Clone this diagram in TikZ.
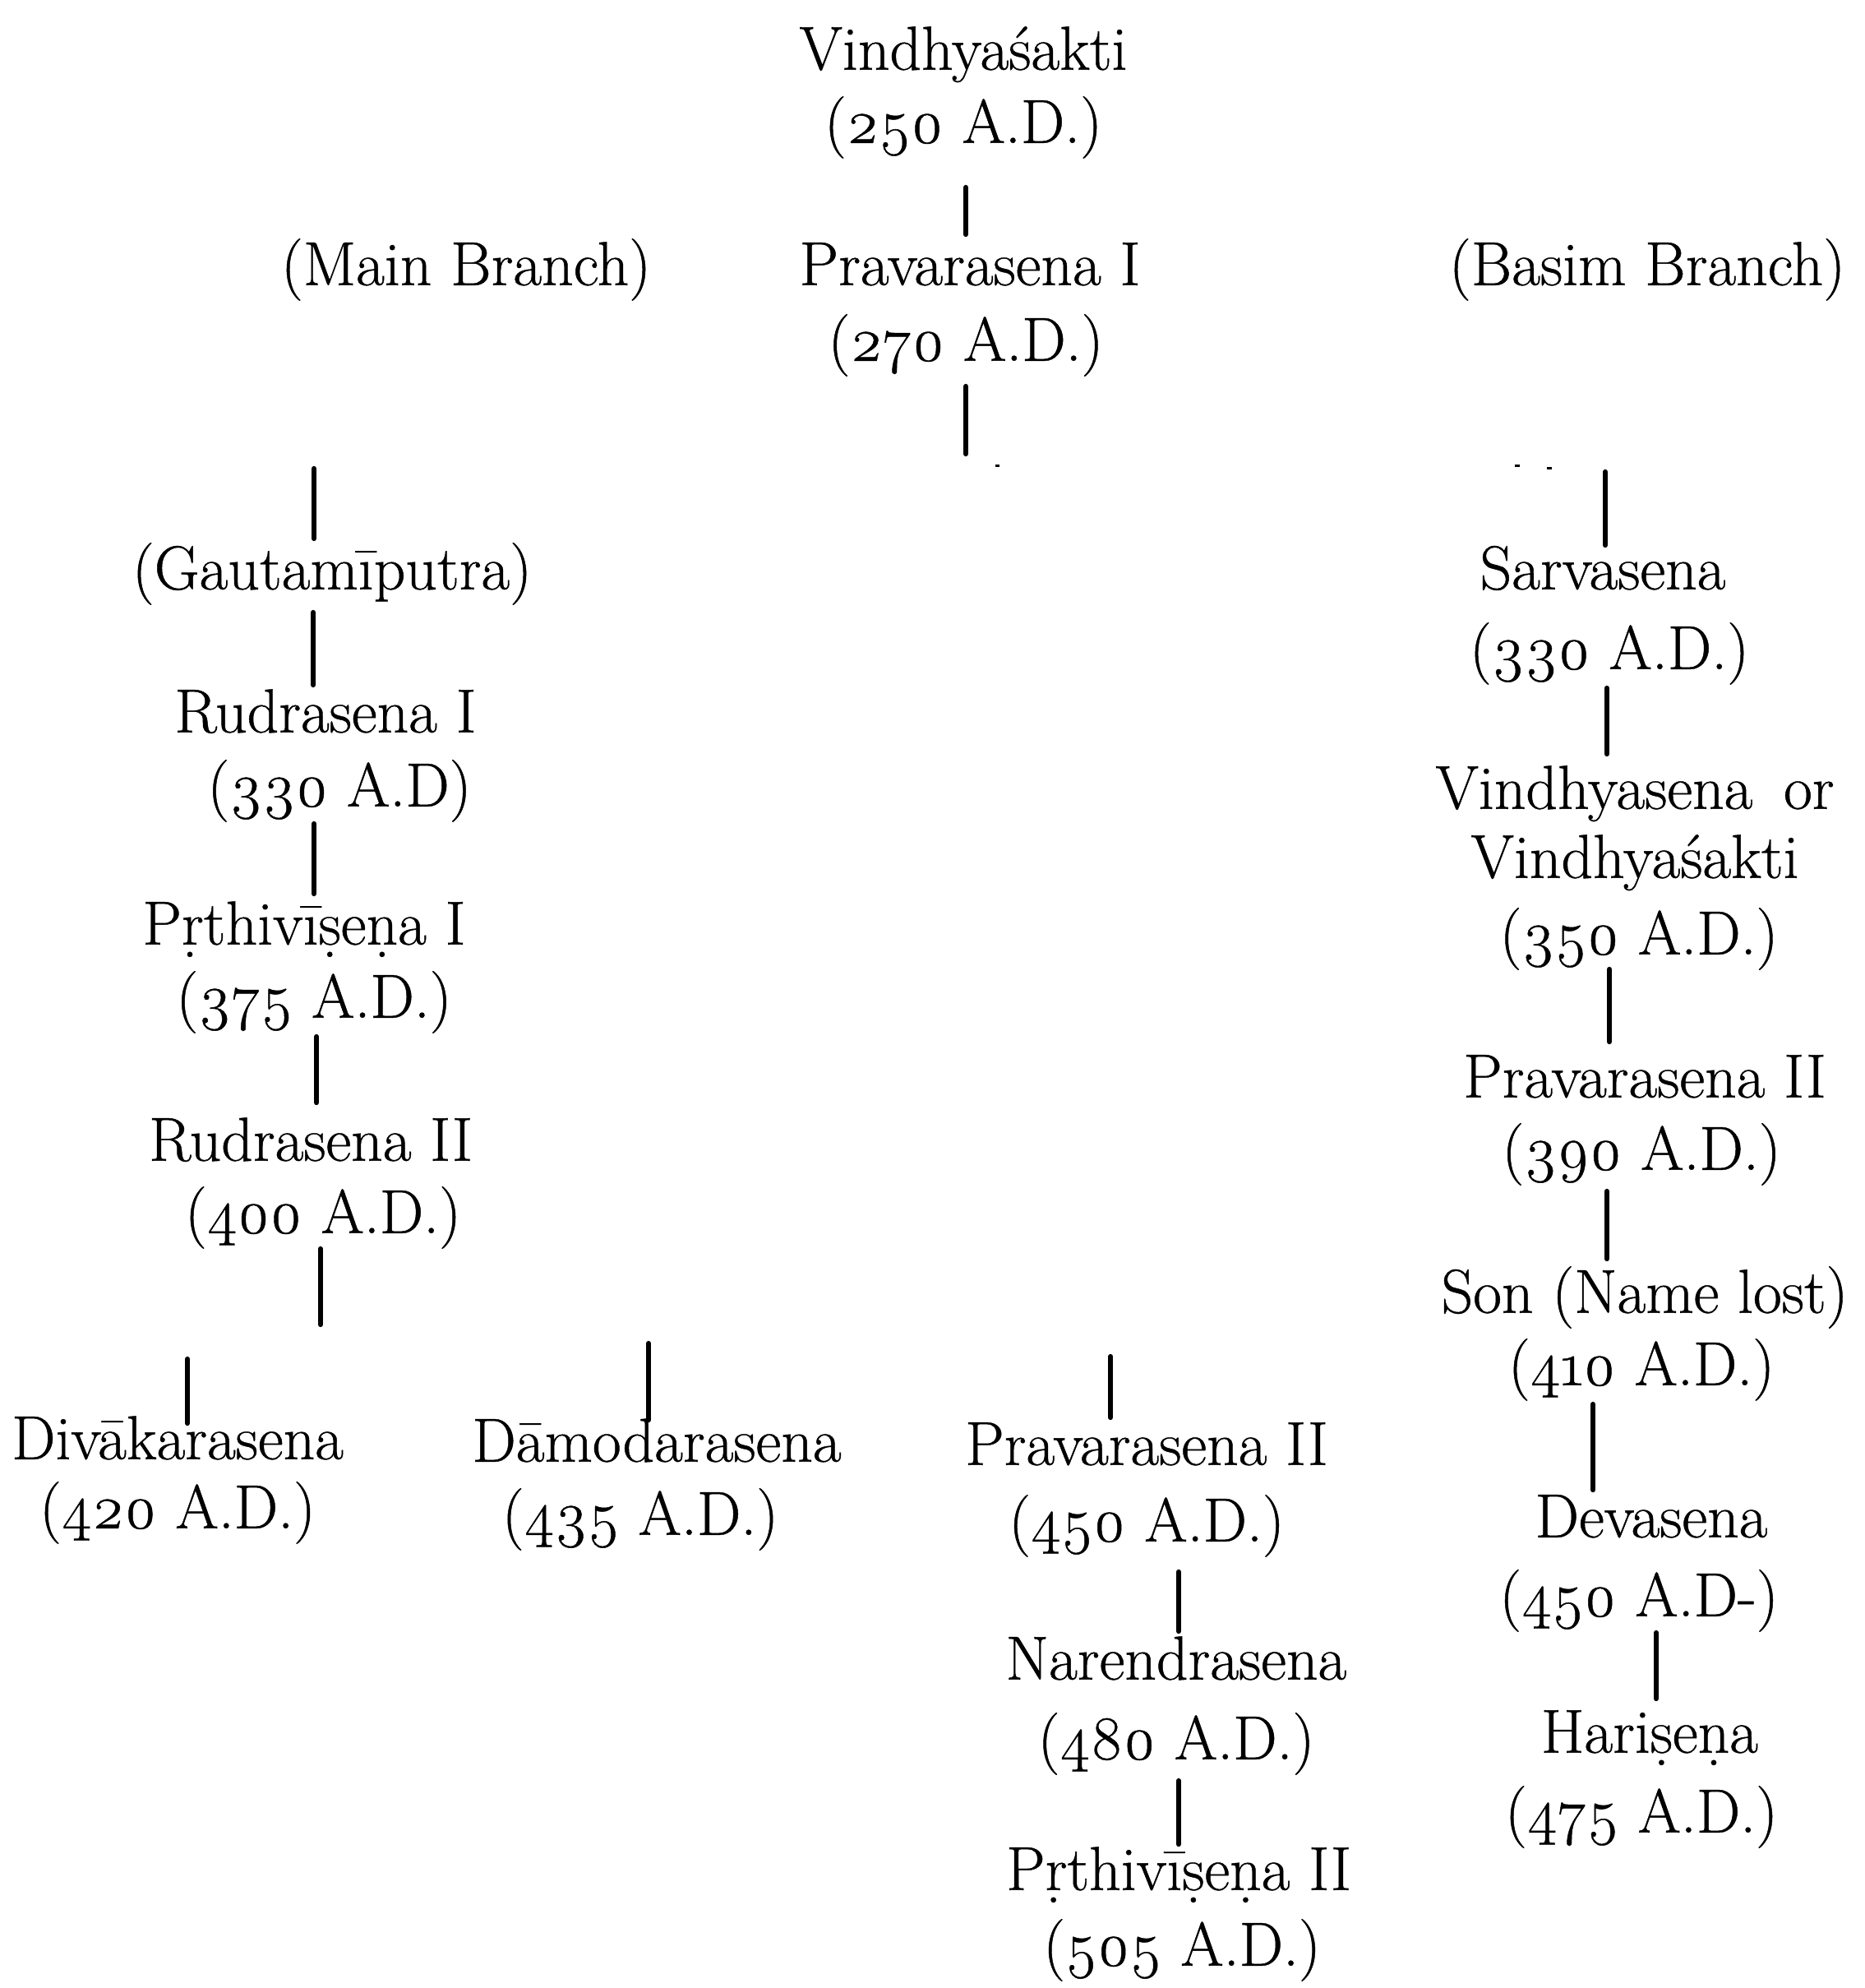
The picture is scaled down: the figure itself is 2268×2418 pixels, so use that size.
\documentclass[tikz,border=0pt]{standalone}
\usepackage{fontspec}
\setmainfont{Latin Modern Roman}[Numbers=OldStyle, FakeBold=0.6]
\begin{document}
\begin{tikzpicture}[x=0.01cm,y=-0.01cm,
  lbl/.style={inner sep=0pt, yshift=-0.11cm, font=\fontsize{21.5}{26}\selectfont, text height=0.72em, text depth=0.22em},
  link/.style={line width=1.8pt, line cap=round}]
\useasboundingbox (0,0) rectangle (2268,2418);
\fill[white] (0,0) rectangle (2268,2418);
% top
\node[lbl] (vs) at (1172,65) {Vindhyaśakti};
\node[lbl] (vsd) at (1172,154) {(250 A.D.)};
\node[lbl] (mb) at (567,327) {(Main Branch)};
\node[lbl] (p1) at (1180,327) {Pravarasena I};
\node[lbl] (bb) at (2004,327) {(Basim Branch)};
\node[lbl] (p1d) at (1175,419) {(270 A.D.)};
% main branch
\node[lbl] (gp) at (404,697) {(Gautam\={\i}putra)};
\node[lbl] (r1) at (396,871) {Rudrasena I};
\node[lbl] (r1d) at (413,961) {(330 A.D)};
\node[lbl] (pt1) at (370,1129) {P\d{r}thiv\={\i}\d{s}e\d{n}a I};
\node[lbl] (pt1d) at (382,1218) {(375 A.D.)};
\node[lbl] (r2) at (378,1392) {Rudrasena II};
\node[lbl] (r2d) at (393,1480) {(400 A.D.)};
\node[lbl] (dv) at (216,1755) {Div\=akarasena};
\node[lbl] (dvd) at (216,1839) {(420 A.D.)};
\node[lbl] (dm) at (799,1758) {D\=amodarasena};
\node[lbl] (dmd) at (779,1847) {(435 A.D.)};
\node[lbl] (p2) at (1395,1762) {Pravarasena II};
\node[lbl] (p2d) at (1395,1855) {(450 A.D.)};
\node[lbl] (nr) at (1431,2023) {Narendrasena};
\node[lbl] (nrd) at (1431,2120) {(480 A.D.)};
\node[lbl] (pt2) at (1434,2279) {P\d{r}thiv\={\i}\d{s}e\d{n}a II};
\node[lbl] (pt2d) at (1438,2371) {(505 A.D.)};
% Basim branch
\node[lbl] (sv) at (1950,697) {Sarvasena};
\node[lbl] (svd) at (1958,794) {(330 A.D.)};
\node[lbl] (vn) at (1989,964) {Vindhyasena\hspace{0.5em}or};
\node[lbl] (vn2) at (1989,1048) {Vindhyaśakti};
\node[lbl] (vnd) at (1994,1141) {(350 A.D.)};
\node[lbl] (bp2) at (2001,1315) {Pravarasena II};
\node[lbl] (bp2d) at (1997,1403) {(390 A.D.)};
\node[lbl] (sn) at (2001,1577) {Son (Name lost)};
\node[lbl] (snd) at (1997,1665) {(410 A.D.)};
\node[lbl] (dvs) at (2009,1850) {Devasena};
\node[lbl] (dvsd) at (1994,1946) {(450 A.D-)};
\node[lbl] (hs) at (2007,2112) {Hari\d{s}e\d{n}a};
\node[lbl] (hsd) at (1997,2209) {(475 A.D.)};
% connector ends
\coordinate (a1) at (1175,228); \coordinate (a2) at (1175,285);
\coordinate (b1) at (1175,470); \coordinate (b2) at (1175,552);
\coordinate (c1) at (382,570);  \coordinate (c2) at (382,655);
\coordinate (d1) at (381,745);  \coordinate (d2) at (381,833);
\coordinate (e1) at (382,1002); \coordinate (e2) at (382,1087);
\coordinate (f1) at (385,1261); \coordinate (f2) at (385,1341);
\coordinate (g1) at (390,1519); \coordinate (g2) at (390,1611);
\coordinate (h1) at (228,1653); \coordinate (h2) at (228,1731);
\coordinate (i1) at (789,1634); \coordinate (i2) at (789,1727);
\coordinate (j1) at (1351,1650); \coordinate (j2) at (1351,1724);
\coordinate (k1) at (1434,1912); \coordinate (k2) at (1434,1984);
\coordinate (l1) at (1434,2166); \coordinate (l2) at (1434,2243);
\coordinate (m1) at (1953,574); \coordinate (m2) at (1953,663);
\coordinate (n1) at (1955,837); \coordinate (n2) at (1955,917);
\coordinate (o1) at (1958,1179); \coordinate (o2) at (1958,1267);
\coordinate (q1) at (1955,1449); \coordinate (q2) at (1955,1531);
\coordinate (s1) at (1938,1708); \coordinate (s2) at (1938,1812);
\coordinate (t1) at (2015,1986); \coordinate (t2) at (2015,2066);
\foreach \p in {a,b,c,d,e,f,g,h,i,j,k,l,m,n,o,q,s,t}
  \draw[link] (\p1) -- (\p2);
% faint dash remnants
\fill (1211,565) rectangle +(5,3);
\fill (1843,565) rectangle +(6,3);
\fill (1882,568) rectangle +(6,3);
\end{tikzpicture}
\end{document}
